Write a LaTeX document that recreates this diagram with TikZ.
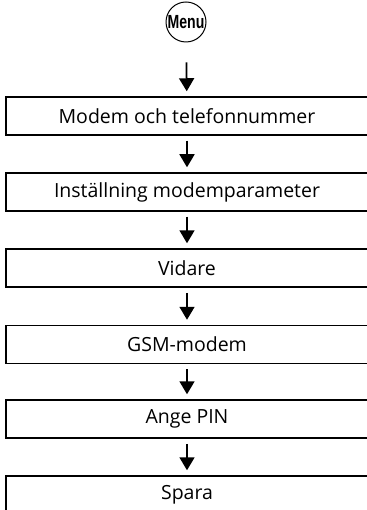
\documentclass[tikz,border=0pt]{standalone}
\usepackage{fontspec}
\setmainfont{Open Sans}
\newfontfamily\menufont{Liberation Sans}
\usetikzlibrary{arrows.meta}
\begin{document}
\begin{tikzpicture}[x=1pt,y=-1pt,
  stepbox/.style={draw, line width=1.5pt, minimum width=362pt, minimum height=38pt, inner sep=0pt, font=\fontsize{19.5}{22}\selectfont},
  flow/.style={line width=1.8pt, -{Triangle[width=15pt,length=13pt]}, shorten <=5pt, shorten >=5pt}]
\useasboundingbox (0,0) rectangle (366,510);
\node[circle, draw, line width=1pt, minimum size=40pt, inner sep=0pt, font=\menufont\bfseries\fontsize{19}{19}\selectfont] (menu) at (186,22) {\scalebox{0.74}[1]{Menu}};
\node[stepbox] (b1) at (187,116) {Modem och telefonnummer};
\node[stepbox] (b2) at (187,192) {Inställning modemparameter};
\node[stepbox] (b3) at (187,268) {Vidare};
\node[stepbox] (b4) at (187,344.5) {GSM-modem};
\node[stepbox] (b5) at (187,419) {Ange PIN};
\node[stepbox] (b6) at (187,495) {Spara};
\draw[flow, shorten <=20pt] (menu) -- (b1);
\draw[flow] (b1) -- (b2);
\draw[flow] (b2) -- (b3);
\draw[flow] (b3) -- (b4);
\draw[flow] (b4) -- (b5);
\draw[flow] (b5) -- (b6);
\end{tikzpicture}
\end{document}
